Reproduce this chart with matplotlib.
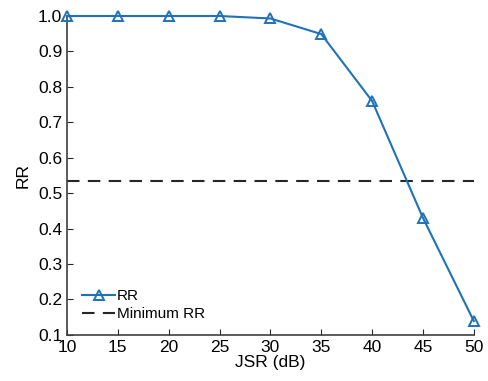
import numpy as np
import matplotlib.pyplot as plt

plt.rcParams['font.family'] = ['Liberation Sans', 'DejaVu Sans']

# 数据
jsr = [10, 15, 20, 25, 30, 35, 40, 45, 50]
rr = [1.0, 1.0, 1.0, 1.0, 0.993, 0.949, 0.760, 0.430, 0.139]
min_rr = 0.534
x_ticks = [10, 15, 20, 25, 30, 35, 40, 45, 50]
y_ticks = [0.1, 0.2, 0.3, 0.4, 0.5, 0.6, 0.7, 0.8, 0.9, 1.0]

fig = plt.figure(figsize=(4.89, 3.81), dpi=100)
ax = fig.add_axes([0.137, 0.121, 0.832, 0.837])

ax.plot(jsr, rr, color='#1f72b8', marker='^', markersize=7, markerfacecolor='none',
        markeredgewidth=1.4, linewidth=1.5, label='RR', clip_on=False, zorder=3)
ax.plot([jsr[0], jsr[-1]], [min_rr, min_rr], color='#262626', linestyle=(0, (6, 4)),
        linewidth=1.5, label='Minimum RR')

ax.set_xlim(10, 50)
ax.set_ylim(0.1, 1.0)
ax.set_xticks(x_ticks)
ax.set_yticks(y_ticks)
ax.set_yticklabels(['%.1f' % v for v in y_ticks])
ax.tick_params(direction='in', length=4, labelsize=12.5, colors='#262626', labelcolor='black')
ax.spines['top'].set_visible(False)
ax.spines['right'].set_visible(False)
for s in ['left', 'bottom']:
    ax.spines[s].set_color('#404040')
    ax.spines[s].set_linewidth(1.2)

ax.set_xlabel('JSR (dB)', fontsize=12.5, labelpad=0)
ax.set_ylabel('RR', fontsize=12.5, labelpad=5)

ax.legend(loc='lower left', frameon=False, fontsize=11, handlelength=2.2,
          handletextpad=0.1, borderaxespad=0.3, labelspacing=0.25,
          bbox_to_anchor=(0.01, 0.01))

fig.savefig('out.png', dpi=100)
